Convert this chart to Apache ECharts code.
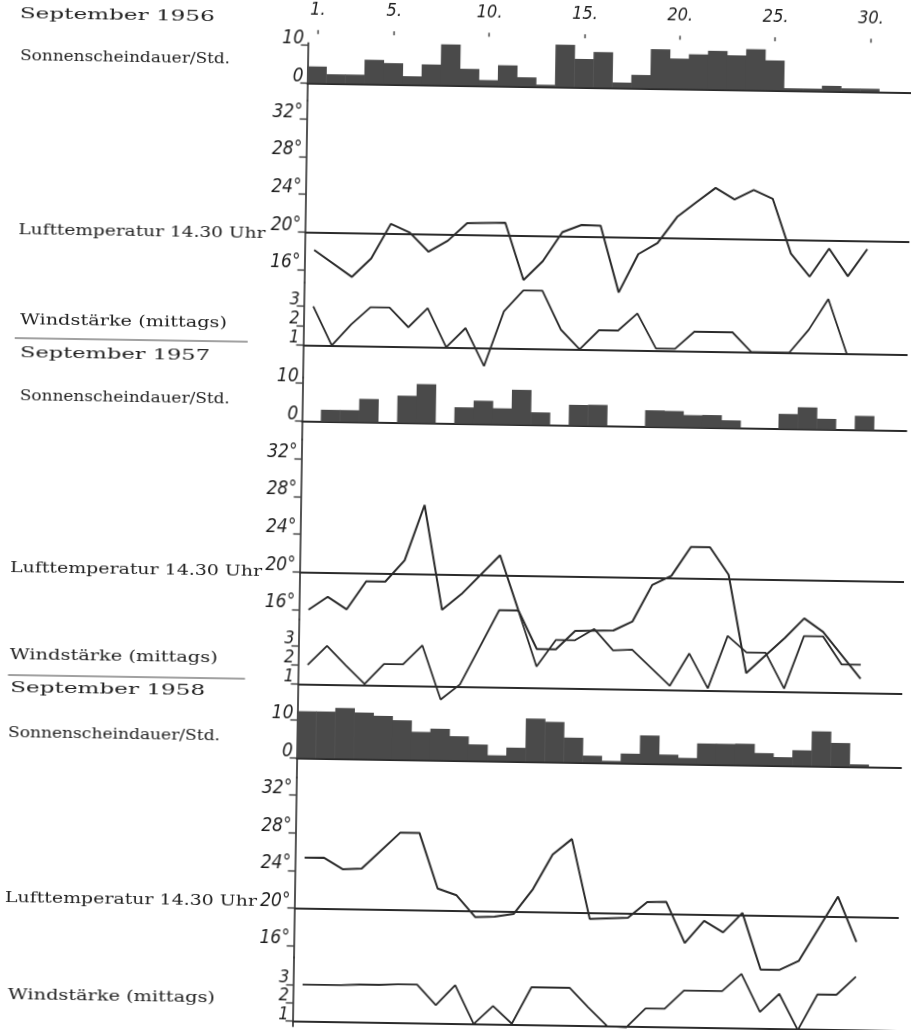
<!DOCTYPE html>
<html><head><meta charset="utf-8">
<script src="https://cdn.jsdelivr.net/npm/echarts@6/dist/echarts.min.js"></script>
<style>
html,body{margin:0;padding:0;background:#fff;overflow:hidden;}
#chart{width:911px;height:1030px;transform:rotate(0.9deg);transform-origin:50% 50%;}
</style></head><body><div id="chart"></div>
<script>
// ---------------- data ----------------
const days = [1,2,3,4,5,6,7,8,9,10,11,12,13,14,15,16,17,18,19,20,21,22,23,24,25,26,27,28,29,30];
const dayTicks = [1,5,10,15,20,25,30];
const sunTicks = [0,10];
const tempTicks = [16,20,24,28,32];
const windTicks = [1,2,3];
const tempRefLine = 20;
const windRefLine = 1;
const years = ['1956','1957','1958'];
const monthName = 'September';
const rowTitles = ['Sonnenscheindauer/Std.','Lufttemperatur 14.30 Uhr','Windstärke (mittags)'];

const sun1956 = [4.4,2.4,2.4,6.4,5.6,2.2,5.4,10.8,4.4,1.5,5.5,2.4,0.5,11.2,7.5,9.4,1.4,3.5,10.4,8.0,9.2,10.2,9.1,10.8,7.9,0.6,0.6,1.4,0.8,0.8];
const temp1956 = [18.1,null,15.3,17.3,21.0,20.1,18.1,19.3,21.2,21.25,21.3,15.25,17.3,20.4,21.2,21.15,14.1,18.2,19.4,22.2,23.8,25.35,24.15,25.2,24.3,18.5,16.1,19.1,16.2,19.1];
const wind1956 = [3.0,1.0,2.1,3.0,3.0,2.0,3.0,1.0,2.0,0.05,2.9,4.0,4.0,2.0,1.0,2.0,2.0,2.9,1.1,1.1,2.0,2.0,2.0,1.0,1.0,1.0,2.2,3.8,1.0,null];

const sun1957 = [0,3.1,3.1,6.1,0,7.1,10.2,0,4.3,6.1,4.2,9.1,3.3,0.1,5.4,5.5,0,0,4.3,4.2,3.2,3.3,2.0,0,0,3.9,5.7,2.8,0,3.7];
const temp1957 = [16.0,17.4,16.1,19.1,19.1,21.4,27.3,16.2,17.9,null,22.1,16.3,12.2,12.2,14.2,14.25,14.3,15.3,19.2,20.2,23.3,23.3,20.4,10.0,11.9,13.8,15.9,14.5,null,9.6];
const wind1957 = [2.0,3.0,2.0,1.05,2.1,2.1,3.1,0.3,1.1,null,5.0,5.0,2.1,3.5,3.5,4.1,3.0,3.05,null,1.2,2.9,1.1,3.85,3.0,3.0,1.15,3.9,3.9,2.45,2.45];

const sun1958 = [12.4,12.4,13.4,12.3,11.5,10.4,7.4,8.3,6.4,4.3,1.5,3.6,11.4,10.6,6.5,1.8,0.5,2.5,7.4,2.4,1.6,5.5,5.5,5.6,3.2,2.2,4.1,9.2,6.2,0.6];
const temp1958 = [25.35,25.4,24.2,24.3,null,28.2,28.2,22.3,21.6,19.3,19.4,19.7,22.4,26.1,27.8,19.3,null,19.5,21.2,21.25,16.9,19.3,18.1,20.2,14.2,14.2,15.2,null,22.1,17.3];
const wind1958 = [3.0,3.0,3.0,3.05,3.05,3.1,3.1,2.0,3.1,1.0,2.0,1.05,3.05,3.05,3.05,2.0,1.0,0.95,2.0,2.0,3.0,3.0,3.0,3.95,1.9,2.9,0.95,2.9,2.9,3.9];

const sunByYear = [sun1956, sun1957, sun1958];
const tempByYear = [temp1956, temp1957, temp1958];
const windByYear = [wind1956, wind1957, wind1958];

// ---------------- layout ----------------
const AXIS_LEFT = 300.5, PX_PER_DAY = 19.07, X_MIN = 0.5, X_MAX = 32.2;
const GRID_W = (X_MAX - X_MIN) * PX_PER_DAY;
const panels = [
  {kind:'sun',  year:0, top:45.3, bottom:103,  cal:0,  calPx:85.3,   unit:3.77},
  {kind:'temp', year:0, top:103,  bottom:285,  cal:20, calPx:234.3,  unit:9.42},
  {kind:'wind', year:0, top:285,  bottom:380,  cal:1,  calPx:347.3,  unit:19.3},
  {kind:'sun',  year:1, top:380,  bottom:442,  cal:0,  calPx:423.7,  unit:3.83},
  {kind:'temp', year:1, top:442,  bottom:622,  cal:20, calPx:574.3,  unit:9.42},
  {kind:'wind', year:1, top:622,  bottom:715,  cal:1,  calPx:686.3,  unit:19.2},
  {kind:'sun',  year:2, top:715,  bottom:780,  cal:0,  calPx:760.3,  unit:3.77},
  {kind:'temp', year:2, top:780,  bottom:960,  cal:20, calPx:910.3,  unit:9.38},
  {kind:'wind', year:2, top:960,  bottom:1029, cal:1,  calPx:1023.7, unit:18.4}
];
const textPos = [
  {x:12, y:21, w:195},{x:13, y:63, w:210},{x:14, y:237, w:247},{x:17, y:327, w:207},
  {x:17.5, y:360, w:190},{x:18, y:403, w:210},{x:11, y:575, w:252},{x:12, y:662, w:208},
  {x:13, y:695, w:195},{x:11.5, y:740, w:212},{x:11, y:905, w:252},{x:15.6, y:1002, w:207}
];
const separators = [{x1:12,x2:245,y:345},{x1:10.6,x2:247.6,y:682}];

const INK = '#2b2b2b', BAR = '#4a4a4a';
const AXIS_FONT = '"DejaVu Sans Condensed", "DejaVu Sans", sans-serif';
const LABEL_FONT = 'normal 15px "DejaVu Serif", "Liberation Serif", serif';

const grids = [], xAxes = [], yAxes = [], series = [];
panels.forEach((p, i) => {
  const max = p.cal + (p.calPx - p.top) / p.unit;
  const min = p.cal - (p.bottom - p.calPx) / p.unit;
  grids.push({left: AXIS_LEFT, width: GRID_W, top: p.top, height: p.bottom - p.top, outerBoundsMode: 'none'});
  xAxes.push({
    type:'value', gridIndex:i, min:X_MIN, max:X_MAX,
    axisLine:{show: p.kind === 'sun', onZero:true, lineStyle:{color:INK, width:1.8}},
    axisTick:{show:false}, axisLabel:{show:false}, splitLine:{show:false}
  });
  const ticks = p.kind === 'sun' ? sunTicks : (p.kind === 'temp' ? tempTicks : windTicks);
  yAxes.push({
    type:'value', gridIndex:i, min:min, max:max,
    axisLine:{show:true, lineStyle:{color:INK, width:1.6}},
    axisTick:{show:true, customValues:ticks, length:7, lineStyle:{color:INK, width:1.3}},
    axisLabel:{customValues:ticks, margin:4, verticalAlign:'bottom', lineHeight:13, hideOverlap:false,
      showMinLabel:true, showMaxLabel:true,
      fontSize: p.kind === 'wind' ? 18 : 19, fontStyle:'italic', fontFamily:AXIS_FONT, color:'#1e1e1e',
      formatter: v => p.kind === 'temp' ? v + '°' : String(v)},
    splitLine:{show:false}
  });
  const y = p.year;
  if (p.kind === 'sun') {
    series.push({type:'bar', xAxisIndex:i, yAxisIndex:i, barWidth:PX_PER_DAY + 0.5, clip:false, silent:true,
      itemStyle:{color:BAR}, data: days.map((d, k) => [d, sunByYear[y][k]])});
  } else {
    const vals = p.kind === 'temp' ? tempByYear[y] : windByYear[y];
    const ref = p.kind === 'temp' ? tempRefLine : windRefLine;
    series.push({type:'line', xAxisIndex:i, yAxisIndex:i, clip:false, silent:true, symbol:'none', connectNulls:true,
      lineStyle:{color:INK, width: p.kind === 'temp' ? 2 : 1.8},
      data: days.map((d, k) => [d, vals[k]]),
      markLine:{silent:true, symbol:['none','none'], label:{show:false},
        lineStyle:{color:INK, width:2, type:'solid'}, data:[{yAxis: ref}]}});
  }
});
xAxes.push({
  type:'value', gridIndex:0, min:X_MIN, max:X_MAX, position:'top', offset:9,
  axisLine:{show:false, onZero:false},
  axisTick:{show:true, customValues:dayTicks, length:4, lineStyle:{color:INK, width:1.3}},
  axisLabel:{customValues:dayTicks, margin:15, fontSize:18, fontStyle:'italic', fontFamily:AXIS_FONT, color:'#1e1e1e',
    hideOverlap:false, formatter: v => v + '.'},
  splitLine:{show:false}
});

const ctx = document.createElement('canvas').getContext('2d');
ctx.font = LABEL_FONT;
const texts = [];
years.forEach(yr => { texts.push(monthName + ' ' + yr); rowTitles.forEach(t => texts.push(t)); });
const graphic = texts.map((t, k) => ({
  type:'text', x:textPos[k].x, y:textPos[k].y, scaleX: textPos[k].w / ctx.measureText(t).width, silent:true,
  style:{text:t, font:LABEL_FONT, fill:'#222', textVerticalAlign:'middle'}
}));
separators.forEach(s => graphic.push({type:'line', silent:true, shape:{x1:s.x1, y1:s.y, x2:s.x2, y2:s.y},
  style:{stroke:'#444', lineWidth:1}}));

const chart = echarts.init(document.getElementById('chart'), null, {renderer:'canvas'});
chart.setOption({animation:false, backgroundColor:'#ffffff', grid:grids, xAxis:xAxes, yAxis:yAxes, series:series, graphic:graphic});
</script></body></html>
